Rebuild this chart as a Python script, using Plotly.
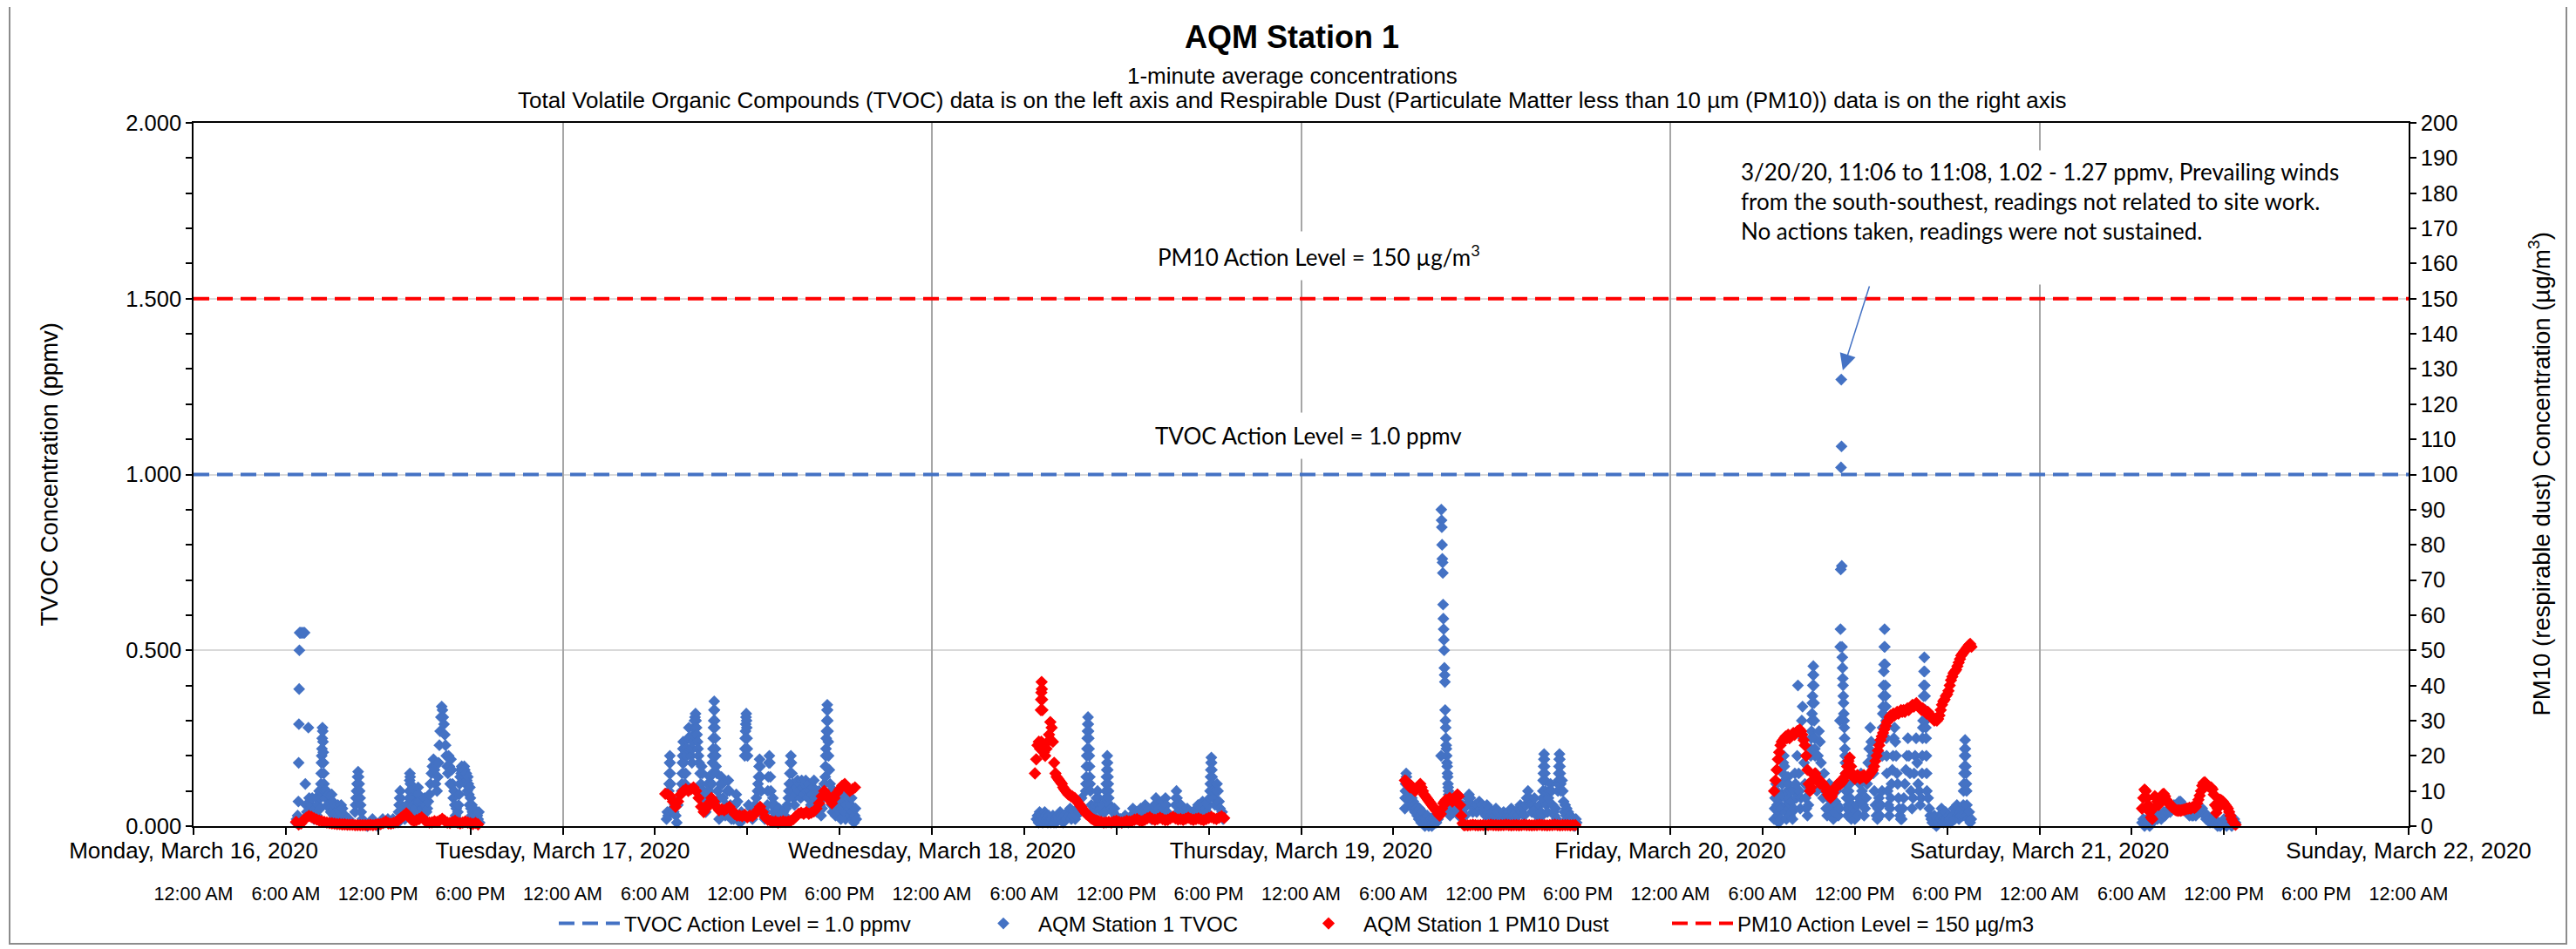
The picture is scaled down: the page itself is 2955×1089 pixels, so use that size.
import pandas as pd
import plotly.graph_objects as go

# ---------------- text / axis labels ----------------
TITLE = "AQM Station 1"
SUBTITLE_1 = "1-minute average concentrations"
SUBTITLE_2 = ("Total Volatile Organic Compounds (TVOC) data is on the left axis and Respirable Dust "
              "(Particulate Matter less than 10 \u00b5m (PM10)) data is on the right axis")
DAY_LABELS = ["Monday, March 16, 2020", "Tuesday, March 17, 2020", "Wednesday, March 18, 2020",
              "Thursday, March 19, 2020", "Friday, March 20, 2020", "Saturday, March 21, 2020",
              "Sunday, March 22, 2020"]
TIME_LABELS = ["12:00 AM", "6:00 AM", "12:00 PM", "6:00 PM"]
X_START = "2020-03-16 00:00"
X_END = "2020-03-22 00:00"

TVOC_ACTION_LEVEL = 1.0     # ppmv
PM10_ACTION_LEVEL = 150     # ug/m3

# ---------------- readings ----------------
# each segment: (start time, minutes between readings, readings)
tvoc_mon = [
    ("06:40", 2, [0.01, 0.02, 0.01, 0.03, 0.02]),
    ("06:49", 1, [0.07, 0.18, 0.29, 0.39, 0.50, 0.55]),
    ("06:57", 4, [0.55, 0.55, 0.55, 0.55, 0.55]),
    ("07:16", 3, [0.12, 0.06, 0.04, 0.03, 0.28, 0.08, 0.05, 0.03, 0.06, 0.08, 0.04]),
    ("07:50", 4, [0.02, 0.05, 0.08, 0.03, 0.06, 0.10]),
    ("08:14", 1, [0.05, 0.08, 0.10, 0.12, 0.15, 0.18, 0.20, 0.22, 0.25, 0.28, 0.27, 0.24, 0.21, 0.18, 0.15, 0.12, 0.10]),
    ("08:35", 4, [0.08, 0.10, 0.06, 0.09, 0.05, 0.04, 0.09, 0.07, 0.03, 0.06, 0.04, 0.02, 0.06, 0.03]),
    ("09:31", 5, [0.04, 0.06, 0.05, 0.02, 0.03, 0.02, 0.01, 0.02]),
    ("10:30", 2, [0.04, 0.06, 0.08, 0.10, 0.12, 0.14, 0.155, 0.14, 0.12, 0.10, 0.08, 0.06, 0.04]),
    ("10:58", 10, [0.02, 0.01, 0.00, 0.01, 0.02, 0.01, 0.00, 0.01, 0.02, 0.01, 0.02, 0.01, 0.02, 0.01, 0.01]),
    ("13:20", 2, [0.04, 0.06, 0.08, 0.10, 0.08, 0.06]),
    ("13:36", 4, [0.03, 0.05, 0.02, 0.04, 0.06, 0.03]),
    ("14:00", 1, [0.05, 0.08, 0.10, 0.13, 0.15, 0.14, 0.12, 0.10, 0.08]),
    ("14:14", 4, [0.04, 0.06, 0.03, 0.05]),
    ("14:32", 2, [0.07, 0.09, 0.11, 0.09, 0.07]),
    ("14:45", 4, [0.04, 0.03, 0.05, 0.06, 0.08, 0.06, 0.04]),
    ("15:12", 4, [0.05, 0.07, 0.09, 0.12, 0.15, 0.17, 0.19, 0.16, 0.12]),
    ("15:50", 3, [0.10, 0.14, 0.18, 0.23, 0.27, 0.31, 0.34, 0.33, 0.31, 0.29, 0.26, 0.23, 0.20, 0.17]),
    ("16:32", 3, [0.15, 0.20, 0.17, 0.12, 0.19, 0.16, 0.12, 0.08]),
    ("16:56", 3, [0.10, 0.06, 0.03, 0.05, 0.02, 0.04]),
    ("17:14", 2, [0.06, 0.09, 0.12, 0.14, 0.16, 0.15, 0.17, 0.16, 0.14, 0.15, 0.13, 0.17, 0.16, 0.14, 0.12, 0.15,
                  0.13, 0.10, 0.14, 0.12, 0.09, 0.06, 0.11, 0.08, 0.05, 0.03, 0.06, 0.04, 0.02, 0.05, 0.03, 0.02,
                  0.03, 0.02, 0.01, 0.02]),
    ("18:27", 3, [0.03, 0.02, 0.04, 0.01]),
]
tvoc_tue = [
    ("06:45", 3, [0.02, 0.04, 0.03]),
    ("06:54", 1, [0.10, 0.12, 0.15, 0.18, 0.20, 0.18, 0.15, 0.12]),
    ("07:05", 4, [0.08, 0.05, 0.04, 0.06, 0.03, 0.01, 0.06]),
    ("07:44", 1, [0.10, 0.12, 0.15, 0.18, 0.20, 0.22, 0.24, 0.22, 0.18, 0.15]),
    ("07:57", 3, [0.12, 0.15, 0.20, 0.22, 0.25, 0.28, 0.25, 0.22, 0.20]),
    ("08:24", 2, [0.18, 0.22, 0.24, 0.26, 0.28, 0.30, 0.31, 0.32, 0.30, 0.28, 0.26, 0.24, 0.22, 0.20, 0.18]),
    ("08:56", 3, [0.15, 0.12, 0.17, 0.15, 0.10, 0.08, 0.05]),
    ("09:18", 4, [0.04, 0.08, 0.12, 0.10, 0.14, 0.08]),
    ("09:42", 1, [0.12, 0.15, 0.18, 0.20, 0.22, 0.25, 0.28, 0.30, 0.33, 0.355, 0.33, 0.30, 0.28, 0.25, 0.22, 0.20, 0.17]),
    ("10:01", 3, [0.15, 0.10, 0.05, 0.02, 0.08, 0.12, 0.14, 0.12, 0.08]),
    ("10:30", 4, [0.05, 0.03, 0.06, 0.10, 0.13, 0.10, 0.06, 0.02]),
    ("11:02", 5, [0.04, 0.02, 0.06, 0.09, 0.07, 0.03, 0.01, 0.04, 0.02]),
    ("11:50", 1, [0.20, 0.22, 0.25, 0.27, 0.29, 0.31, 0.32, 0.30, 0.28, 0.25, 0.22, 0.20]),
    ("12:05", 5, [0.06, 0.03, 0.05, 0.02, 0.04, 0.06, 0.08]),
    ("12:40", 2, [0.10, 0.12, 0.14, 0.17, 0.19, 0.17, 0.14, 0.10]),
    ("12:58", 5, [0.05, 0.03, 0.02, 0.04, 0.06]),
    ("13:20", 2, [0.10, 0.14, 0.18, 0.20, 0.18, 0.14, 0.10]),
    ("13:36", 4, [0.06, 0.08, 0.04, 0.06, 0.03, 0.02, 0.04, 0.05, 0.03, 0.02]),
    ("14:16", 5, [0.02, 0.04, 0.03, 0.05, 0.06]),
    ("14:40", 2, [0.08, 0.10, 0.12, 0.15, 0.18, 0.20, 0.18, 0.15, 0.12, 0.10, 0.08]),
    ("15:04", 4, [0.06, 0.09, 0.11, 0.13, 0.10, 0.12, 0.08, 0.13, 0.11, 0.09, 0.12, 0.13, 0.10, 0.08, 0.12, 0.10,
                  0.06, 0.09, 0.11, 0.13, 0.08]),
    ("16:28", 4, [0.06, 0.04, 0.08, 0.10, 0.06, 0.03, 0.05, 0.08, 0.12]),
    ("17:04", 1, [0.14, 0.17, 0.20, 0.22, 0.25, 0.27, 0.30, 0.33, 0.345, 0.33, 0.30, 0.27, 0.24, 0.20]),
    ("17:20", 3, [0.16, 0.12, 0.10, 0.06, 0.04, 0.08, 0.10, 0.07, 0.03, 0.05, 0.09, 0.10, 0.08, 0.06, 0.04, 0.02,
                  0.05, 0.08, 0.10, 0.07, 0.04, 0.02, 0.06, 0.09, 0.10, 0.08, 0.05, 0.03, 0.06, 0.08, 0.04, 0.02,
                  0.01, 0.03, 0.05, 0.02]),
]
tvoc_wed = [
    ("06:48", 4, [0.02, 0.03, 0.01, 0.04, 0.02, 0.03, 0.01, 0.02, 0.04, 0.03, 0.02, 0.01, 0.03, 0.02, 0.01, 0.02,
                  0.03, 0.01, 0.02, 0.01, 0.02, 0.03, 0.02, 0.04, 0.03, 0.02, 0.01, 0.03]),
    ("08:44", 5, [0.02, 0.04, 0.03, 0.05, 0.02, 0.03, 0.04, 0.02, 0.03, 0.05, 0.04, 0.06, 0.08]),
    ("10:00", 1, [0.10, 0.12, 0.14, 0.17, 0.20, 0.22, 0.25, 0.27, 0.29, 0.31, 0.29, 0.27, 0.25, 0.22, 0.20, 0.17,
                  0.14, 0.12, 0.10]),
    ("10:22", 4, [0.06, 0.04, 0.03, 0.05, 0.06, 0.08, 0.10, 0.08, 0.06, 0.05, 0.04, 0.06, 0.05, 0.04]),
    ("11:18", 1, [0.08, 0.10, 0.12, 0.14, 0.16, 0.18, 0.20, 0.18, 0.16, 0.14, 0.12, 0.10, 0.08]),
    ("11:34", 6, [0.06, 0.05, 0.04, 0.05, 0.03, 0.02, 0.01, 0.02, 0.01, 0.02, 0.03, 0.02, 0.01, 0.02, 0.03, 0.05,
                  0.03, 0.02, 0.04, 0.03]),
    ("13:34", 6, [0.05, 0.03, 0.04, 0.06, 0.04, 0.05, 0.03, 0.02, 0.04, 0.06, 0.08, 0.06, 0.05, 0.04, 0.07, 0.05]),
    ("15:08", 3, [0.06, 0.08, 0.06, 0.04]),
    ("15:50", 2, [0.06, 0.08, 0.10, 0.08, 0.06]),
    ("16:00", 6, [0.04, 0.03, 0.06, 0.04, 0.02, 0.03, 0.05, 0.04, 0.03, 0.02, 0.04, 0.03, 0.05, 0.06, 0.04, 0.05,
                  0.07, 0.06]),
    ("17:48", 5, [0.05, 0.04, 0.06, 0.03]),
    ("18:04", 1, [0.08, 0.10, 0.12, 0.14, 0.16, 0.18, 0.195, 0.18, 0.16, 0.14, 0.12, 0.10]),
    ("18:20", 4, [0.08, 0.06, 0.10, 0.12, 0.10, 0.07, 0.05, 0.03, 0.04, 0.02]),
]
tvoc_thu = [
    ("06:45", 1, [0.05, 0.08, 0.10, 0.12, 0.13, 0.15, 0.14, 0.12, 0.10]),
    ("06:57", 3, [0.08, 0.10, 0.07, 0.09, 0.06, 0.08, 0.05, 0.07, 0.06, 0.04, 0.06, 0.05, 0.03, 0.04, 0.02, 0.05,
                  0.03, 0.01, 0.02, 0.04, 0.02, 0.01, 0.00, 0.02, 0.01, 0.03, 0.01, 0.00, 0.02, 0.01, 0.02, 0.00,
                  0.01, 0.02, 0.01, 0.03, 0.02, 0.01, 0.03, 0.02, 0.04]),
    ("09:06", 1, [0.20, 0.90, 0.87, 0.85, 0.80, 0.76, 0.75, 0.72, 0.63, 0.59, 0.56, 0.53, 0.50, 0.45, 0.43, 0.41,
                  0.33, 0.30, 0.28, 0.25, 0.23, 0.22, 0.20, 0.18, 0.17, 0.15, 0.14, 0.12, 0.11, 0.10, 0.09, 0.08,
                  0.06, 0.05, 0.04, 0.03]),
    ("09:45", 5, [0.05, 0.07, 0.04, 0.06, 0.05, 0.07, 0.03, 0.05, 0.04, 0.06, 0.05, 0.03, 0.06, 0.08, 0.09, 0.08,
                  0.06, 0.04, 0.05, 0.06, 0.04, 0.06, 0.07, 0.05, 0.06, 0.04, 0.05, 0.03, 0.06, 0.04, 0.05, 0.03,
                  0.04]),
    ("12:30", 5, [0.02, 0.03, 0.05, 0.04, 0.02, 0.01, 0.03, 0.02, 0.04, 0.03, 0.02, 0.03, 0.04, 0.03, 0.05, 0.04,
                  0.03, 0.02, 0.04, 0.03, 0.05, 0.06, 0.04, 0.05, 0.03, 0.06, 0.08, 0.10, 0.08, 0.06]),
    ("15:00", 5, [0.04, 0.06, 0.08, 0.05, 0.03, 0.04, 0.06, 0.04, 0.03]),
    ("15:42", 1, [0.08, 0.10, 0.13, 0.15, 0.17, 0.19, 0.205, 0.19, 0.17, 0.15, 0.13, 0.10]),
    ("15:57", 4, [0.06, 0.04, 0.08, 0.10, 0.12, 0.10, 0.06, 0.04, 0.03, 0.05, 0.02]),
    ("16:42", 1, [0.10, 0.12, 0.13, 0.15, 0.17, 0.19, 0.205, 0.19, 0.17, 0.15, 0.13, 0.12, 0.10]),
    ("16:58", 3, [0.13, 0.10, 0.07, 0.04, 0.06, 0.03, 0.05, 0.02, 0.04, 0.02, 0.01, 0.03, 0.02, 0.01, 0.02, 0.01,
                  0.00, 0.01, 0.02, 0.01]),
]
tvoc_fri = [
    ("06:45", 2, [0.02, 0.05, 0.08, 0.10, 0.12, 0.10, 0.06, 0.03, 0.05, 0.01, 0.04, 0.08, 0.06, 0.02, 0.05, 0.09,
                  0.12, 0.15, 0.18, 0.20, 0.17, 0.13, 0.08, 0.04, 0.02, 0.06, 0.10, 0.14, 0.12, 0.08, 0.05, 0.03,
                  0.06, 0.10, 0.07, 0.04, 0.02]),
    ("08:00", 3, [0.05, 0.10, 0.15, 0.12, 0.08, 0.20, 0.40, 0.15, 0.10, 0.05, 0.08, 0.30, 0.34, 0.25, 0.18, 0.12,
                  0.08, 0.05]),
    ("08:55", 4, [0.03, 0.06, 0.10]),
    ("09:08", 1, [0.20, 0.22, 0.25, 0.27, 0.30, 0.32, 0.35, 0.37, 0.40, 0.43, 0.455, 0.43, 0.40, 0.35, 0.30, 0.25,
                  0.22, 0.20]),
    ("09:28", 4, [0.15, 0.10, 0.20, 0.27, 0.24, 0.18, 0.12, 0.08, 0.15, 0.10, 0.05, 0.03, 0.08, 0.12, 0.06, 0.03,
                  0.05, 0.02, 0.04, 0.07, 0.10, 0.06, 0.03, 0.05]),
    ("11:02", 1, [0.30, 0.51, 0.56, 0.73, 1.02, 1.27, 1.08, 0.74, 0.51, 0.48, 0.45, 0.42, 0.40, 0.37, 0.35, 0.32,
                  0.30, 0.28, 0.25, 0.22, 0.20, 0.18, 0.15, 0.12, 0.10]),
    ("11:28", 2, [0.08, 0.05, 0.03, 0.06, 0.10, 0.15, 0.12, 0.08, 0.05, 0.02, 0.04, 0.06]),
    ("11:52", 4, [0.03, 0.05, 0.02, 0.04, 0.06, 0.03, 0.08, 0.12, 0.15, 0.10, 0.06, 0.03, 0.05, 0.08, 0.12, 0.18,
                  0.22, 0.28, 0.24, 0.20, 0.15, 0.10, 0.06, 0.03, 0.02]),
    ("13:30", 4, [0.05, 0.08, 0.03, 0.06]),
    ("13:46", 1, [0.10, 0.20, 0.28, 0.32, 0.34, 0.37, 0.40, 0.44, 0.46, 0.51, 0.56, 0.51, 0.46, 0.40, 0.37, 0.34,
                  0.30, 0.25, 0.20, 0.15]),
    ("14:08", 3, [0.10, 0.06, 0.03, 0.05, 0.08, 0.12, 0.16, 0.20, 0.25, 0.28, 0.24, 0.20, 0.15, 0.12, 0.08, 0.05,
                  0.03, 0.02]),
    ("15:03", 4, [0.02, 0.05, 0.08, 0.12, 0.16, 0.20, 0.25, 0.20, 0.15, 0.10, 0.05]),
    ("15:47", 4, [0.08, 0.15, 0.20, 0.25, 0.18, 0.12, 0.10, 0.06, 0.08]),
    ("16:22", 1, [0.15, 0.20, 0.25, 0.28, 0.30, 0.33, 0.37, 0.40, 0.44, 0.48, 0.44, 0.40, 0.37, 0.33, 0.30, 0.28,
                  0.25, 0.20, 0.15, 0.10]),
    ("16:46", 4, [0.08, 0.05, 0.03, 0.02, 0.01, 0.02, 0.03, 0.01, 0.00, 0.02, 0.01, 0.03, 0.02, 0.05, 0.03, 0.01,
                  0.02, 0.04, 0.02, 0.01, 0.03, 0.02, 0.01, 0.02, 0.03, 0.05, 0.02, 0.04, 0.06, 0.03, 0.02, 0.04,
                  0.03, 0.05]),
    ("19:02", 1, [0.03, 0.06, 0.10, 0.12, 0.15, 0.17, 0.20, 0.22, 0.245, 0.22, 0.20, 0.17, 0.15, 0.12, 0.10, 0.06,
                  0.03]),
    ("19:22", 4, [0.02, 0.04, 0.01, 0.02]),
]
tvoc_sat = [
    ("06:40", 5, [0.01, 0.02, 0.00, 0.01, 0.02, 0.01, 0.00, 0.02, 0.01, 0.02, 0.02, 0.03, 0.02, 0.03, 0.03, 0.02,
                  0.03, 0.04, 0.03, 0.04, 0.04, 0.05, 0.04, 0.05, 0.05, 0.06, 0.05, 0.06, 0.06, 0.07, 0.07, 0.06,
                  0.06, 0.05, 0.05, 0.04, 0.04, 0.03, 0.04, 0.03, 0.03, 0.04, 0.03, 0.04, 0.05, 0.04, 0.05, 0.05,
                  0.04, 0.03, 0.02, 0.03, 0.02, 0.01, 0.02, 0.01, 0.02, 0.01, 0.01, 0.00, 0.01, 0.00, 0.01, 0.01,
                  0.02, 0.01, 0.00, 0.01, 0.02, 0.01, 0.00, 0.01, 0.02, 0.01]),
]

pm10_mon = [
    ("06:40", 10, [1.2, 0.5, 0.8, 1.8, 2.4, 2.9, 2.6, 2.2, 1.9, 1.6, 1.4, 1.2, 1.0, 0.9, 0.8, 0.7, 0.6, 0.6, 0.5,
                   0.5, 0.4, 0.4, 0.4, 0.3, 0.3, 0.3, 0.3, 0.3, 0.3, 0.4, 0.3, 0.4, 0.5, 0.6, 0.9, 1.3, 0.8, 0.7,
                   0.9, 1.2, 1.8, 2.4, 3.0, 3.6, 2.8, 1.8, 1.4, 1.7, 2.0, 2.5, 1.8, 1.2, 1.0, 1.1, 1.4, 1.2, 1.6,
                   2.1, 1.5, 1.0, 0.9, 1.2, 1.5, 1.0, 0.8, 1.0, 1.3, 1.0, 0.8, 0.6, 0.9, 0.5]),
]
pm10_tue = [
    ("06:40", 10, [9.2, 9.0, 8.5, 7.0, 5.5, 7.0, 9.0, 10.0, 10.5, 10.0, 10.5, 11.0, 10.0, 8.0, 5.5, 4.0, 5.0, 6.5,
                   8.0, 7.0, 5.5, 4.5, 4.8, 4.5, 5.0, 5.5, 4.5, 3.5, 3.0, 3.0, 2.8, 3.2, 2.5, 3.0, 2.8, 3.5, 4.5,
                   5.5, 4.0, 2.5, 1.8, 1.5, 1.2, 1.3, 1.0, 1.2, 1.4, 1.2, 1.3, 1.5, 2.0, 2.8, 3.5, 3.8, 3.5, 4.0,
                   3.5, 3.8, 4.2, 5.0, 6.5, 8.5, 10.0, 9.0, 7.5, 6.5, 8.0, 9.5, 10.5, 11.5, 12.0, 11.0, 10.0,
                   10.5, 11.0]),
]
pm10_wed = [
    ("06:42", 5, [15, 19, 23, 24, 22, 24, 23, 21, 20, 22, 24, 26, 29.6, 28, 24, 18, 15, 14, 13.5, 13, 12.5, 12,
                  11, 10.5, 10, 9.5, 9, 9, 8.5, 8.5, 8, 8, 7.5, 7, 6.5, 6, 5.5, 5, 4.5, 4, 3.5, 3.2, 3, 2.6, 2.2,
                  2.0, 1.8, 1.6, 1.5, 1.4, 1.3]),
    ("07:05", 1, [33, 36, 38, 41, 39, 36, 33]),
    ("11:00", 10, [1.2, 1.0, 1.1, 1.2, 1.0, 1.3, 1.5, 1.2, 1.0, 1.2, 1.5, 1.3, 1.4, 1.8, 2.0, 1.6, 1.4, 1.8, 2.2,
                   2.5, 2.0, 1.8, 2.0, 2.4, 2.0, 1.7, 1.8, 2.2, 2.6, 2.2, 1.9, 2.0, 1.8, 2.1, 2.4, 2.0, 1.8, 2.0,
                   2.2, 1.9, 1.7, 2.0, 2.3, 2.6, 2.2, 2.0, 2.4, 2.8, 2.3]),
]
pm10_thu = [
    ("06:45", 5, [13.0, 12.8, 12.0, 11.5, 11.0, 11.5, 11.0, 10.5, 10.0, 10.5, 11.0, 11.5, 12.0, 11.0, 10.0, 9.0,
                  8.5, 8.0, 7.5, 7.0, 6.5, 6.0, 5.5, 5.0, 4.5, 4.3, 3.5, 3.0, 3.5, 5.0, 6.5, 7.0, 7.5, 7.0, 7.5,
                  8.0, 7.5, 7.0, 7.5, 8.0, 8.5, 9.0, 8.5, 6.0, 3.0, 0.8, 0.3]),
    ("10:40", 10, [0.3, 0.2, 0.3, 0.4, 0.3, 0.2, 0.3, 0.3, 0.2, 0.3, 0.4, 0.3, 0.3, 0.2, 0.3, 0.3, 0.4, 0.3, 0.2,
                   0.3, 0.3, 0.2, 0.3, 0.4, 0.3, 0.3, 0.2, 0.3, 0.3, 0.4, 0.3, 0.3, 0.2, 0.3, 0.3, 0.4, 0.3, 0.2,
                   0.3, 0.3, 0.3, 0.2, 0.3, 0.3]),
]
pm10_fri = [
    ("06:45", 5, [10, 13, 16, 19, 21, 23, 24, 24.5, 25, 25.5, 25, 26, 25, 25.5, 26, 26.5, 26, 26.5, 27, 27, 27.5,
                  27, 26, 24.5, 23, 20, 16, 12, 10, 11, 13, 14.5, 15, 14, 13, 12.5, 12, 12.5, 12, 11.5, 11, 10, 9,
                  8.5, 8, 8.5, 9.5, 10.5, 11, 11.5, 12, 12.5, 12, 12.5, 13, 14, 15, 17, 18.5, 19.5, 17, 15, 14,
                  13.5, 14, 14.5, 14, 13.5, 14, 14, 14.5, 14, 13.5, 14, 14.5, 15, 15.5, 16, 17, 18.5, 20, 21.5,
                  23, 24.5, 25.5, 26.5, 27.5, 28.5, 29.5, 30, 31, 31.5, 31, 32, 31.5, 32, 32.5, 32, 32.5, 33,
                  32.5, 33, 32.5, 33, 33.5, 33, 33.5, 34, 34.5, 34, 34.5, 35, 34.5, 34, 33.5, 33, 33.5, 33, 32.5,
                  32, 32.5, 32, 31.5, 31, 30.5, 30, 30.5, 30, 30.5, 31.5, 33, 34.5, 35.5, 36, 37, 37.5, 38.5, 40,
                  41.5, 42.5, 43.5, 44, 44.5, 45.5, 46.5, 47.5, 48.5, 49, 49.5, 50, 50.5, 51, 51.5, 51.8, 51]),
]
pm10_sat = [
    ("06:40", 5, [5, 8, 10.4, 10, 8, 6, 4, 2.5, 2, 5, 8.5, 8, 7, 6, 7, 8, 9, 9.2, 8.5, 7.5, 7, 6.5, 6, 5.5, 5.5,
                  5, 4.6, 4.5, 4.4, 4.5, 4.4, 4.5, 4.6, 4.7, 4.8, 5, 5, 5.2, 5, 5.3, 5.4, 5.2, 5.5, 6.5, 7.5, 8.7,
                  10, 11.5, 12.3, 12.5, 12, 11.5, 11.3, 11, 11, 10.5, 9, 6, 3.8, 5, 7, 7.5, 7.3, 7, 6.5, 6, 5.5,
                  5, 4, 3, 2, 1.2, 0.8, 0.4]),
]

TVOC_DAYS = [("2020-03-16", tvoc_mon), ("2020-03-17", tvoc_tue), ("2020-03-18", tvoc_wed),
             ("2020-03-19", tvoc_thu), ("2020-03-20", tvoc_fri), ("2020-03-21", tvoc_sat)]
PM10_DAYS = [("2020-03-16", pm10_mon), ("2020-03-17", pm10_tue), ("2020-03-18", pm10_wed),
             ("2020-03-19", pm10_thu), ("2020-03-20", pm10_fri), ("2020-03-21", pm10_sat)]


def expand(days):
    xs, ys = [], []
    for date, segments in days:
        for start, step, vals in segments:
            t0 = pd.Timestamp(f"{date} {start}")
            for i, v in enumerate(vals):
                xs.append(t0 + pd.Timedelta(minutes=step * i))
                ys.append(v)
    return xs, ys


tvoc_x, tvoc_y = expand(TVOC_DAYS)
pm_x, pm_y = expand(PM10_DAYS)

six_hour_ticks = list(pd.date_range(X_START, X_END, freq="6h"))
six_hour_text = [TIME_LABELS[i % 4] for i in range(len(six_hour_ticks))]
day_ticks = list(pd.date_range(X_START, X_END, freq="D"))

ARIAL = "Liberation Sans, Arial, sans-serif"
CALIBRI = "Lato, Carlito, Calibri, sans-serif"
BLUE = "#4472C4"
RED = "#FF0000"

# the page body adds an 8px margin; all screen positions below are compensated for it
OFF = 8
W, H = 2955 - OFF, 1089 - OFF
L, R, T, B = 222 - OFF, 192, 141 - OFF, 149 - OFF
PW, PH = W - L - R, H - T - B


def px(xs):   # screen x pixel -> paper x
    return (xs - OFF - L) / PW


def py(ys):   # screen y pixel -> paper y
    return (H - B - (ys - OFF)) / PH


fig = go.Figure()
fig.add_trace(go.Scatter(
    x=[X_START, X_END], y=[TVOC_ACTION_LEVEL, TVOC_ACTION_LEVEL], mode="lines",
    name="TVOC Action Level = 1.0 ppmv", line=dict(color=BLUE, width=4, dash="18px,9px"),
    legend="legend", hoverinfo="skip"))
fig.add_trace(go.Scatter(
    x=tvoc_x, y=tvoc_y, mode="markers", name="AQM Station 1 TVOC",
    marker=dict(symbol="diamond", size=10.5, color=BLUE, line=dict(width=0)),
    cliponaxis=False, legend="legend2"))
fig.add_trace(go.Scatter(
    x=pm_x, y=pm_y, mode="markers", name="AQM Station 1 PM10 Dust", yaxis="y2",
    marker=dict(symbol="diamond", size=11, color=RED, line=dict(width=0)),
    cliponaxis=False, legend="legend3"))
fig.add_trace(go.Scatter(
    x=[X_START, X_END], y=[PM10_ACTION_LEVEL, PM10_ACTION_LEVEL], mode="lines", yaxis="y2",
    name="PM10 Action Level = 150 \u00b5g/m3", line=dict(color=RED, width=4, dash="18px,9px"),
    legend="legend4", hoverinfo="skip"))
# carrier for the day-label axis
fig.add_trace(go.Scatter(x=[X_START, X_END], y=[None, None], xaxis="x2", mode="lines",
                         showlegend=False, hoverinfo="skip"))

legend_common = dict(orientation="h", yanchor="middle", xanchor="left", y=py(1060),
                     font=dict(family=ARIAL, size=24, color="black"), bgcolor="rgba(0,0,0,0)",
                     itemwidth=70)

fig.update_layout(
    width=W, height=H,
    margin=dict(l=L, r=R, t=T, b=B, autoexpand=False),
    paper_bgcolor="white", plot_bgcolor="white",
    font=dict(family=ARIAL, size=25, color="black"),
    xaxis=dict(type="date", range=[X_START, X_END], tickmode="array", tickvals=six_hour_ticks,
               ticktext=six_hour_text, ticks="outside", ticklen=8, tickwidth=1.5, tickcolor="black",
               showgrid=False, zeroline=False, showline=True, linecolor="black", linewidth=2,
               mirror=True, tickfont=dict(size=21.5), ticklabelstandoff=49),
    xaxis2=dict(type="date", range=[X_START, X_END], overlaying="x", anchor="y", side="bottom",
                tickmode="array", tickvals=day_ticks, ticktext=DAY_LABELS, ticks="",
                showgrid=True, gridcolor="#A6A6A6", gridwidth=1.5, zeroline=False, showline=False,
                tickfont=dict(size=26), ticklabelstandoff=10),
    yaxis=dict(range=[0, 2], dtick=0.5, tickformat=".3f", ticks="outside", ticklen=7, tickwidth=1.5,
               tickcolor="black", showgrid=True, gridcolor="#D9D9D9", gridwidth=1.5, zeroline=False,
               showline=True, linecolor="black", linewidth=1.5, tickfont=dict(size=25.5),
               minor=dict(dtick=0.1, ticks="outside", ticklen=7, tickwidth=1.5, tickcolor="black",
                          showgrid=False)),
    yaxis2=dict(range=[0, 200], dtick=10, overlaying="y", side="right", anchor="x", ticks="outside",
                ticklen=7, tickwidth=1.5, tickcolor="black", showgrid=False, zeroline=False,
                showline=True, linecolor="black", linewidth=1.5, tickfont=dict(size=25.5)),
    showlegend=True,
    legend=dict(legend_common, x=px(636)),
    legend2=dict(legend_common, x=px(1111)),
    legend3=dict(legend_common, x=px(1484)),
    legend4=dict(legend_common, x=px(1913)),
)

ann = [
    dict(text="<b>" + TITLE + "</b>", x=px(1482), y=py(43), font=dict(size=36)),
    dict(text=SUBTITLE_1, x=px(1482), y=py(87), font=dict(size=26)),
    dict(text=SUBTITLE_2, x=px(1482), y=py(115), font=dict(size=26)),
    dict(text="TVOC Concentration (ppmv)", x=px(56), y=0.5, textangle=-90, font=dict(size=27.5)),
    dict(text="PM10 (respirable dust) Concentration (\u00b5g/m<sup>3</sup>)", x=px(2914), y=0.5,
         textangle=-90, font=dict(size=27.5)),
]
for a in ann:
    a.update(xref="paper", yref="paper", xanchor="center", yanchor="middle", showarrow=False)
    a["font"].update(family=ARIAL, color="black")
    fig.add_annotation(**a)

fig.add_annotation(text="PM10 Action Level = 150 \u00b5g/m<sup>3</sup>", xref="paper", yref="paper",
                   x=px(1317), y=py(293), xanchor="left", yanchor="middle", showarrow=False,
                   bgcolor="white", borderpad=10, font=dict(family=CALIBRI, size=26, color="black"))
fig.add_annotation(text="TVOC Action Level = 1.0 ppmv", xref="paper", yref="paper",
                   x=px(1314), y=py(500), xanchor="left", yanchor="middle", showarrow=False,
                   bgcolor="white", borderpad=10, font=dict(family=CALIBRI, size=26, color="black"))
fig.add_annotation(
    text=("3/20/20, 11:06 to 11:08, 1.02 - 1.27 ppmv, Prevailing winds<br>"
          "from the south-southest, readings not related to site work.<br>"
          "No actions taken, readings were not sustained."),
    xref="paper", yref="paper", x=px(1988), y=py(172), xanchor="left", yanchor="top",
    align="left", valign="top", height=137, showarrow=False, bgcolor="white", borderpad=8,
    font=dict(family=CALIBRI, size=26, color="black"))
# arrow pointing at the 1.27 ppmv reading
fig.add_annotation(x="2020-03-20 11:13", y=1.296, xref="x", yref="y", text="", showarrow=True,
                   ax=31, ay=-98, arrowhead=2, arrowsize=2.5, arrowwidth=1.5, arrowcolor=BLUE,
                   standoff=0)

# outer chart border
fig.add_shape(type="rect", xref="paper", yref="paper", x0=px(11), x1=px(2944), y0=py(1083), y1=py(7),
              line=dict(color="#8C8C8C", width=2), fillcolor="rgba(0,0,0,0)", layer="below")

fig.write_html("out.html")
